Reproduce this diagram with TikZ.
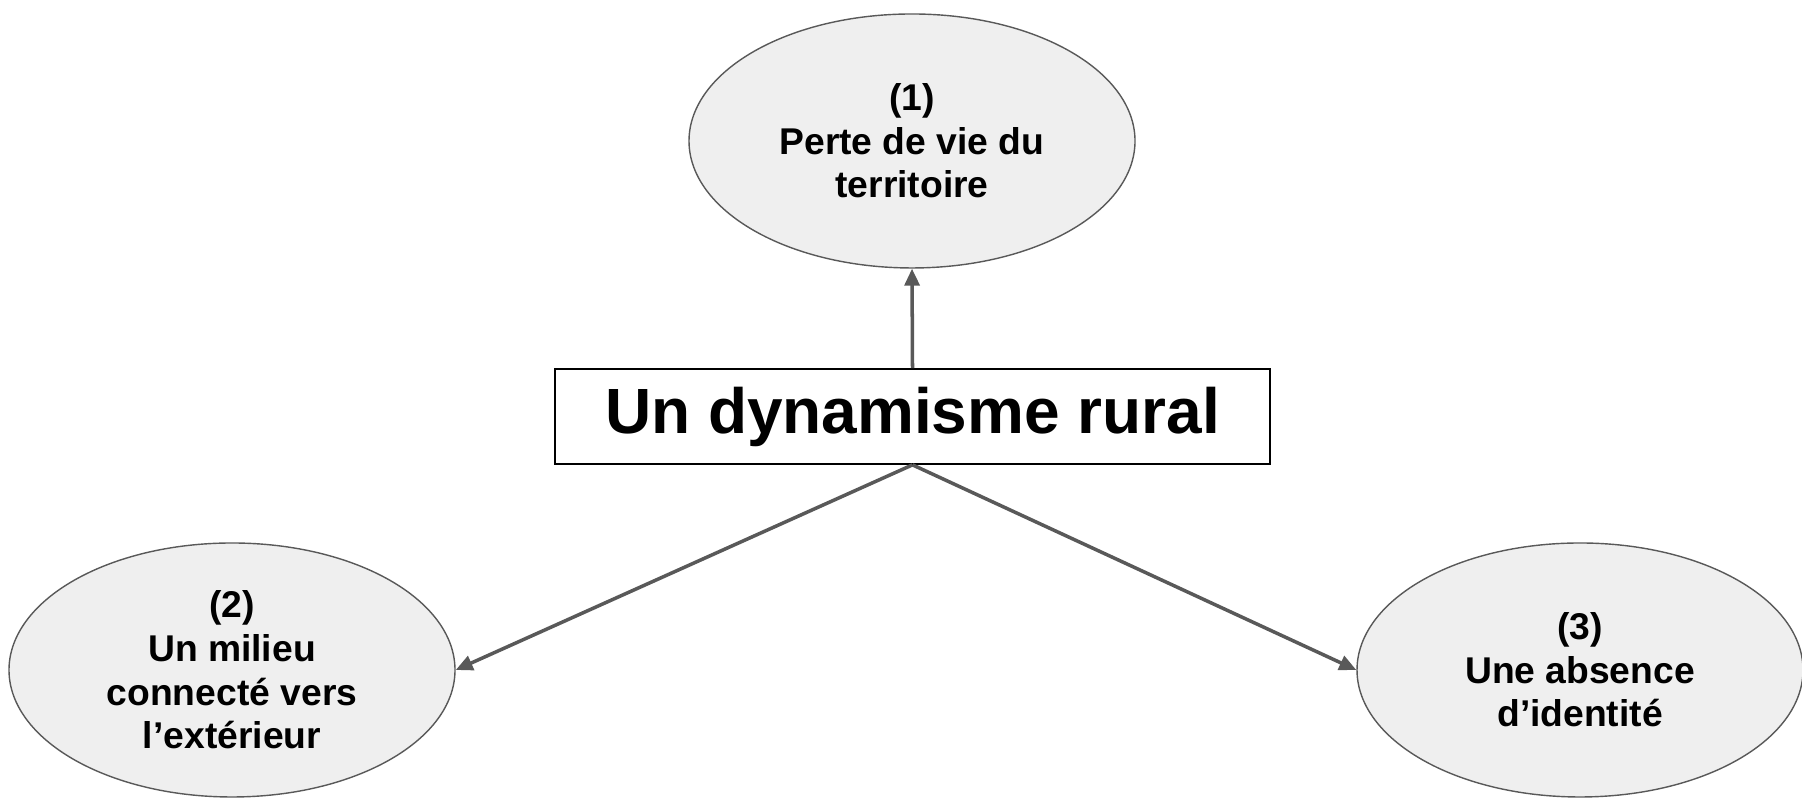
\documentclass[tikz,border=0pt]{standalone}
\usepackage{fontspec}
\setmainfont{Liberation Sans}
\usetikzlibrary{shapes.geometric,arrows.meta}
\definecolor{elfill}{HTML}{EFEFEF}
\definecolor{eldraw}{HTML}{595959}
\begin{document}
\begin{tikzpicture}
[   cause/.style={draw=eldraw, fill=elfill, ellipse, inner sep=0pt,
        minimum width=4.46cm, minimum height=2.54cm, align=center,
        font=\fontsize{10.6}{12.4}\selectfont\bfseries},
    link/.style={draw=eldraw, line width=1pt,
        -{Triangle[length=0.17cm,width=0.15cm]}},
]
\useasboundingbox (0,0) rectangle (18.02,7.98);

\node[cause] (T) at (9.12,6.57) {(1)\\Perte de vie du\\territoire};
\node[cause] (L) at (2.32,1.28) {(2)\\Un milieu\\connecté vers\\l’extérieur};
\node[cause] (R) at (15.80,1.28) {(3)\\Une absence\\d’identité};
\node[draw=black, line width=0.5pt, minimum width=7.15cm, minimum height=0.95cm,
    font=\fontsize{18.2}{22}\selectfont\bfseries] (M) at (9.125,3.815) {Un dynamisme rural};


\draw[link] (M.north) -- (T.south);
\draw[link] (M.south) -- (L.east);
\draw[link] (M.south) -- (R.west);

\end{tikzpicture}
\end{document}
